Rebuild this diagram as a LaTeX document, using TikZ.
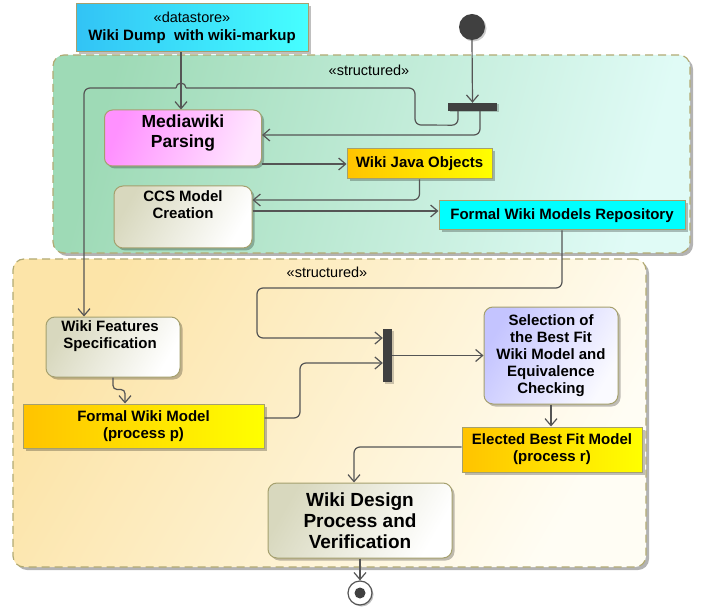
\documentclass[tikz,border=0pt]{standalone}
\usepackage{fontspec}
\setmainfont{Liberation Sans}
\usetikzlibrary{arrows.meta,shadows,calc}
\definecolor{nodeborder}{RGB}{165,160,110}
\definecolor{regborder}{RGB}{178,170,115}
\definecolor{conncol}{RGB}{85,85,85}
\definecolor{barcol}{RGB}{64,64,64}
\definecolor{dsL}{RGB}{50,195,245}
\definecolor{dsR}{RGB}{70,255,255}
\definecolor{grL}{RGB}{158,218,182}
\definecolor{grR}{RGB}{224,251,246}
\definecolor{ywL}{RGB}{252,228,168}
\definecolor{ywR}{RGB}{255,253,244}
\definecolor{mwL}{RGB}{255,145,255}
\definecolor{mwR}{RGB}{255,230,255}
\definecolor{orL}{RGB}{255,195,0}
\definecolor{orR}{RGB}{255,255,0}
\definecolor{bgL}{RGB}{216,216,190}
\definecolor{bgR}{RGB}{255,255,255}
\definecolor{repocol}{RGB}{0,255,255}
\definecolor{selL}{RGB}{196,196,255}
\definecolor{selR}{RGB}{250,250,255}
\begin{document}
\begin{tikzpicture}[x=1pt,y=-1pt,
  conn/.style={draw=conncol, line width=1.2pt, rounded corners=6pt, -{Straight Barb[length=7pt,width=12pt]}},
  plainline/.style={draw=conncol, line width=1.2pt},
  box/.style={draw=nodeborder, line width=1pt, inner sep=0pt, align=center,
    font=\fontsize{15}{17}\selectfont\bfseries,
    drop shadow={shadow xshift=2.5pt,shadow yshift=-2.5pt,fill=black,opacity=0.25}},
  act/.style={box, rounded corners=9pt},
  txt/.style={inner sep=0pt, align=center, font=\fontsize{15}{17}\selectfont\bfseries},
  stereo/.style={inner sep=0pt, font=\fontsize{14.5}{17}\selectfont},
  region/.style={draw=regborder, dash pattern=on 8pt off 5pt, line width=1.2pt, rounded corners=11pt, inner sep=0pt,
    drop shadow={shadow xshift=3pt,shadow yshift=-3pt,fill=gray,opacity=0.6}},
  bar/.style={fill=barcol, draw=none, inner sep=0pt,
    drop shadow={shadow xshift=1.5pt,shadow yshift=-1.5pt,fill=black,opacity=0.2}}
]
\useasboundingbox (0,0) rectangle (709,612);

% regions
\node[region, left color=grL, right color=grR, shading angle=75,
  minimum width=637pt, minimum height=198pt] (green) at (371.5,154) {};
\node[stereo] (greenlab) at (369,70) {«structured»};
\node[region, left color=ywL, right color=ywR, shading angle=60,
  minimum width=633pt, minimum height=308pt] (yellow) at (329.5,413) {};
\node[stereo] (yellowlab) at (327,272) {«structured»};

% data store
\node[box, left color=dsL, right color=dsR, minimum width=232pt, minimum height=48pt] (ds) at (192,28)
  {{\fontsize{14.5}{19}\selectfont\mdseries «datastore»}\\[1pt]Wiki Dump\ \ with wiki-markup};

% initial / final
\node[circle, fill=barcol, inner sep=0pt, minimum size=26pt,
  drop shadow={shadow xshift=1.5pt,shadow yshift=-1.5pt,fill=black,opacity=0.2}] (init) at (472,27) {};
\node[bar, minimum width=49pt, minimum height=8pt] (fork1) at (472.5,107) {};

% green region nodes
\node[act, rounded corners=8pt, left color=mwL, right color=mwR, shading angle=70, minimum width=157pt, minimum height=56pt] (mw) at (183,138) {};
\node[txt, font=\fontsize{17.5}{20}\selectfont\bfseries] (mwT) at (183,133.5) {Mediawiki\\Parsing};
\node[box, left color=orL, right color=orR, minimum width=145pt, minimum height=30pt] (wjo) at (419.5,164) {Wiki Java Objects};
\node[act, left color=bgL, right color=bgR, shading angle=60, minimum width=138pt, minimum height=62pt] (ccs) at (183,217) {};
\node[txt] (ccsT) at (183,205) {CCS Model\\Creation};
\node[box, fill=repocol, minimum width=246pt, minimum height=29pt] (repo) at (562,215.5) {Formal Wiki Models Repository};

% yellow region nodes
\node[act, left color=bgL, right color=bgR, shading angle=60, minimum width=134pt, minimum height=60pt] (wfs) at (113,347) {};
\node[txt] (wfsT) at (110,336) {Wiki Features\\Specification};
\node[box, left color=orL, right color=orR, minimum width=241pt, minimum height=44pt] (fwm) at (143.5,426) {Formal Wiki Model\\(process p)};
\node[bar, minimum width=9pt, minimum height=53pt] (fork2) at (387.5,355.5) {};
\node[act, left color=selL, right color=selR, shading angle=60, minimum width=134pt, minimum height=97pt] (sel) at (551,355.5)
  {Selection of\\the Best Fit\\Wiki Model and\\Equivalence\\Checking};
\node[box, left color=orL, right color=orR, minimum width=180pt, minimum height=45pt] (ebf) at (552,449.5) {Elected Best Fit Model\\(process r)};
\node[act, left color=bgL, right color=bgR, shading angle=60, minimum width=184pt, minimum height=75pt,
  font=\fontsize{19}{21}\selectfont\bfseries] (wdp) at (360,520.5) {Wiki Design\\Process and\\Verification};

\node[circle, draw=conncol, fill=white, line width=1.2pt, inner sep=0pt, minimum size=24pt,
  drop shadow={shadow xshift=1.5pt,shadow yshift=-1.5pt,fill=black,opacity=0.25}] (final) at (360,593) {};
\node[circle, fill=barcol, inner sep=0pt, minimum size=11pt] (finaldot) at (final.center) {};

% connectors
\draw[conn] ([xshift=-11pt]ds.south) -- ([xshift=-11pt]ds.south |- mw.north);
\draw[conn] (init.south) -- (fork1.north);
\coordinate (hopR) at (186,88);
\coordinate (hopL) at (176,88);
\coordinate (leftRun) at (84,88);
\draw[plainline, rounded corners=6pt] ([xshift=-14.5pt]fork1.south) -- ++(0,14) -- (415,125) -- (415,88) -- (hopR);
\draw[plainline] (hopR) arc[start angle=0, end angle=-180, radius=5];
\draw[conn] (hopL) -- (leftRun) -- (leftRun |- wfs.north);
\draw[conn] ([xshift=7.5pt]fork1.south) |- ([yshift=3pt]mw.east);
\draw[conn] (mw.east |- wjo.west) -- (wjo.west);
\draw[conn] (wjo.south) |- ([yshift=17pt]ccs.east);
\draw[conn] ([yshift=6pt]ccs.east) -- ([yshift=6pt]ccs.east -| repo.west);
\draw[conn] (repo.south) |- (257,288) |- ([yshift=17.5pt]fork2.west);
\draw[conn] ([yshift=8pt]fwm.east) -- (300,418) |- ([yshift=-7.5pt]fork2.west);
\draw[conn] (fork2.east) -- (sel.west);
\draw[conn] (sel.south) -- (sel.south |- ebf.north);
\draw[conn] ([yshift=2.5pt]ebf.west) -| ([xshift=-6pt]wdp.north);
\draw[conn, rounded corners=4pt] (wfs.south) -- ++(0,12) -| ([xshift=-18.5pt]fwm.north);
\draw[conn] (wdp.south) -- (final.north);
\end{tikzpicture}
\end{document}
